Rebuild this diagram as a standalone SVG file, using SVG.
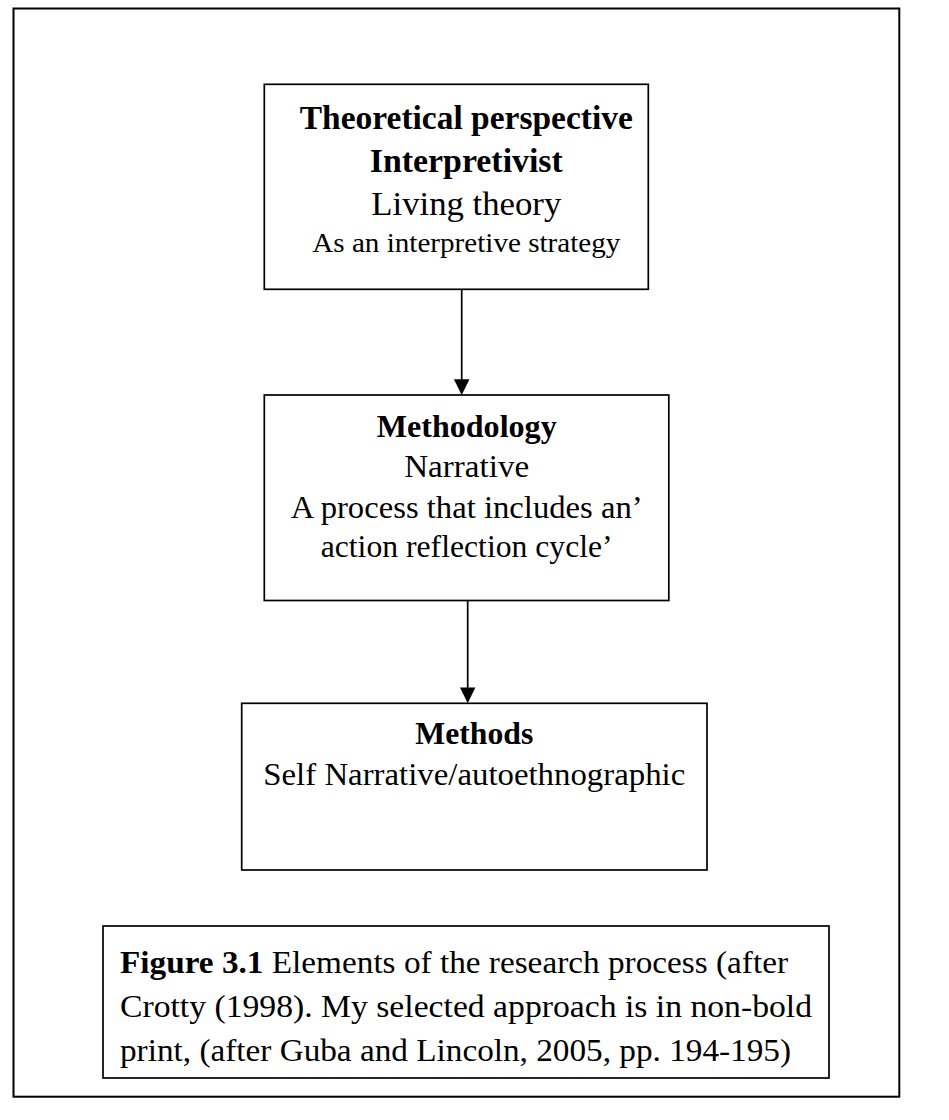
<svg xmlns="http://www.w3.org/2000/svg" width="949" height="1120" viewBox="0 0 949 1120">
  <style>
    .box { fill: #ffffff; stroke: #000000; stroke-width: 1.7; }
    .frame { fill: #ffffff; stroke: #000000; stroke-width: 2; }
    .t { font-family: "Liberation Serif", "Times New Roman", serif; fill: #000000; text-anchor: middle; }
    .b { font-weight: bold; }
    .cap { font-family: "Liberation Serif", "Times New Roman", serif; fill: #000000; font-size: 32.4px; }
    .link { stroke: #000000; stroke-width: 1.7; fill: none; }
    .head { fill: #000000; stroke: none; }
  </style>

  <!-- page frame -->
  <rect class="frame" x="13.5" y="8.5" width="885.8" height="1088.2"/>

  <!-- connectors -->
  <g id="connectors">
    <line class="link" x1="461.7" y1="289.3" x2="461.7" y2="381"/>
    <polygon class="head" points="453.9,379.3 469.5,379.3 461.7,395"/>
    <line class="link" x1="467.7" y1="600.5" x2="467.7" y2="689"/>
    <polygon class="head" points="460,687.5 475.4,687.5 467.7,703.3"/>
  </g>

  <!-- theoretical perspective -->
  <g id="node-theory">
    <rect class="box" x="264.3" y="84.3" width="384" height="205"/>
    <text class="t b" x="466.3" y="129.3" font-size="33" textLength="333" lengthAdjust="spacingAndGlyphs">Theoretical perspective</text>
    <text class="t b" x="466.3" y="171.7" font-size="33" textLength="193" lengthAdjust="spacingAndGlyphs">Interpretivist</text>
    <text class="t" x="466.3" y="215" font-size="33" textLength="190" lengthAdjust="spacingAndGlyphs">Living theory</text>
    <text class="t" x="466.3" y="251.7" font-size="27" textLength="308" lengthAdjust="spacingAndGlyphs">As an interpretive strategy</text>
  </g>

  <!-- methodology -->
  <g id="node-methodology">
    <rect class="box" x="264.3" y="395" width="404.5" height="205.5"/>
    <text class="t b" x="466.7" y="437" font-size="31" textLength="180" lengthAdjust="spacingAndGlyphs">Methodology</text>
    <text class="t" x="466.7" y="477" font-size="31" textLength="125" lengthAdjust="spacingAndGlyphs">Narrative</text>
    <text class="t" x="466.7" y="518" font-size="31" textLength="352" lengthAdjust="spacingAndGlyphs">A process that includes an’</text>
    <text class="t" x="466.7" y="557" font-size="31" textLength="292" lengthAdjust="spacingAndGlyphs">action reflection cycle’</text>
  </g>

  <!-- methods -->
  <g id="node-methods">
    <rect class="box" x="241.7" y="703.3" width="465.3" height="166.7"/>
    <text class="t b" x="474.3" y="744" font-size="31" textLength="118" lengthAdjust="spacingAndGlyphs">Methods</text>
    <text class="t" x="474.3" y="785" font-size="31" textLength="422" lengthAdjust="spacingAndGlyphs">Self Narrative/autoethnographic</text>
  </g>

  <!-- caption -->
  <g id="caption">
    <rect class="box" x="103" y="926" width="726" height="152"/>
    <text class="cap" x="120" y="973" textLength="668" lengthAdjust="spacingAndGlyphs"><tspan font-weight="bold">Figure 3.1</tspan> Elements of the research process (after</text>
    <text class="cap" x="120" y="1017" textLength="692" lengthAdjust="spacingAndGlyphs">Crotty (1998). My selected approach is in non-bold</text>
    <text class="cap" x="120" y="1061" textLength="671" lengthAdjust="spacingAndGlyphs">print, (after Guba and Lincoln, 2005, pp. 194-195)</text>
  </g>
</svg>
